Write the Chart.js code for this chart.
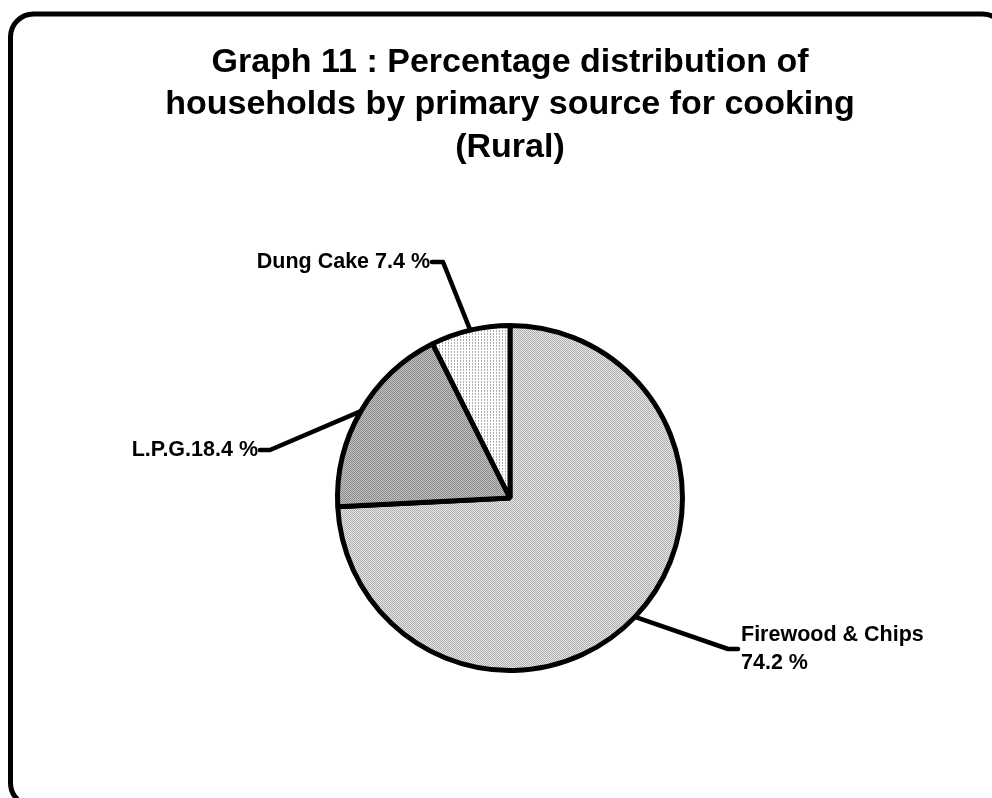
<!DOCTYPE html>
<html>
<head>
<meta charset="utf-8">
<script src="https://cdn.jsdelivr.net/npm/chart.js@4.4.1/dist/chart.umd.min.js"></script>
<style>
  html, body { margin: 0; padding: 0; background: #fff; }
  #wrap { width: 992px; height: 798px; position: relative; }
</style>
</head>
<body>
<div id="wrap"><canvas id="pieChart"></canvas></div>
<script>
// data
const categories = ['Firewood & Chips', 'L.P.G.', 'Dung Cake'];
const shares = [74.2, 18.4, 7.4];
const titleLines = [
    'Graph 11 : Percentage distribution of',
    'households by primary source for cooking',
    '(Rural)'
];

// small dither patterns like the old print-style fills
function makePattern(size, bg, dots) {
    let c = document.createElement('canvas');
    c.width = size;
    c.height = size;
    let g = c.getContext('2d');
    g.fillStyle = bg;
    g.fillRect(0, 0, size, size);
    for (let d of dots) {
        g.fillStyle = d[2];
        g.fillRect(d[0], d[1], 1, 1);
    }
    return g.createPattern(c, 'repeat');
}

let fills = [
    makePattern(2, '#e6e6e6', [[0, 0, '#aaaaaa'], [1, 1, '#b4b4b4']]),
    makePattern(2, '#c2c2c2', [[0, 0, '#858585'], [1, 1, '#8e8e8e']]),
    makePattern(3, '#ffffff', [[1, 0, '#a8a8a8'], [1, 1, '#b8b8b8']])
];

// where each callout goes, relative to the pie centre
const callouts = [
    { elbow: [218, 151], end: [228, 151], text: [231, 0], align: 'left', sep: '\n' },
    { elbow: [-240, -48], end: [-250, -48], text: [-252, 0], align: 'right', sep: '' },
    { elbow: [-67, -236], end: [-78, -236], text: [-80, 0], align: 'right', sep: ' ' }
];

const framePlugin = {
    id: 'frame',
    beforeDraw(chart) {
        let c = chart.ctx;
        c.save();
        c.fillStyle = '#fff';
        c.fillRect(0, 0, chart.width, chart.height);
        c.strokeStyle = '#000';
        c.lineWidth = 5;
        c.beginPath();
        c.roundRect(10.5, 14, 995, 792, 23);
        c.stroke();
        c.restore();
    }
};

const calloutPlugin = {
    id: 'callouts',
    afterDatasetsDraw(chart) {
        let c = chart.ctx;
        let meta = chart.getDatasetMeta(0);
        c.save();
        c.strokeStyle = '#000';
        c.fillStyle = '#000';
        c.lineWidth = 4.5;
        c.lineJoin = 'round';
        c.lineCap = 'round';
        c.font = 'bold 21.5px "Liberation Sans", Arial, sans-serif';
        c.textBaseline = 'middle';
        meta.data.forEach(function (arc, i) {
            let p = arc.getProps(['x', 'y', 'startAngle', 'endAngle', 'outerRadius'], true);
            let a = (p.startAngle + p.endAngle) / 2;
            let co = callouts[i];
            let ex = p.x + Math.cos(a) * p.outerRadius;
            let ey = p.y + Math.sin(a) * p.outerRadius;
            c.beginPath();
            c.moveTo(ex, ey);
            c.lineTo(p.x + co.elbow[0], p.y + co.elbow[1]);
            c.lineTo(p.x + co.end[0], p.y + co.end[1]);
            c.stroke();
            let txt = categories[i] + co.sep + shares[i].toFixed(1) + ' %';
            let lines = txt.split('\n');
            let lh = 28;
            let ty = p.y + co.end[1] - (lines.length - 1) * lh / 2;
            c.textAlign = co.align;
            lines.forEach(function (ln, k) {
                c.fillText(ln, p.x + co.text[0], ty + k * lh);
            });
        });
        c.restore();
    }
};

let chart = new Chart(document.getElementById('pieChart'), {
    type: 'pie',
    data: {
        labels: categories,
        datasets: [{
            data: shares,
            backgroundColor: fills,
            borderColor: '#000',
            borderWidth: 5
        }]
    },
    options: {
        responsive: true,
        maintainAspectRatio: false,
        animation: false,
        layout: {
            padding: { top: 0, left: 100, right: 72, bottom: 125 }
        },
        plugins: {
            legend: { display: false },
            tooltip: { enabled: false },
            title: {
                display: true,
                text: titleLines,
                color: '#000',
                font: { family: '"Liberation Sans", Arial, sans-serif', size: 34, weight: 'bold', lineHeight: 1.25 },
                padding: { top: 41, bottom: 154.5 }
            }
        }
    },
    plugins: [framePlugin, calloutPlugin]
});
</script>
</body>
</html>
